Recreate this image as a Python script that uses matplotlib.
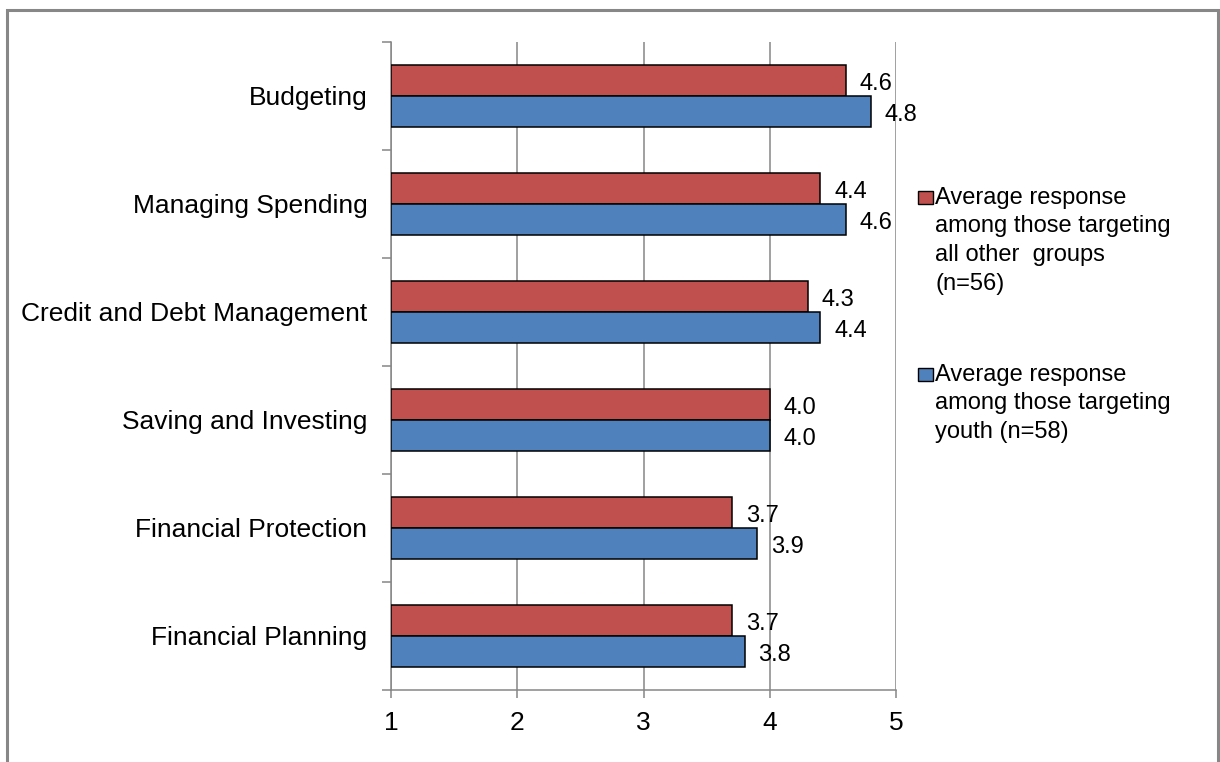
import numpy as np
import matplotlib
matplotlib.use("Agg")
import matplotlib.pyplot as plt
from matplotlib.patches import Rectangle
from matplotlib.legend_handler import HandlerPatch

plt.rcParams['font.family'] = ['Liberation Sans', 'DejaVu Sans']

categories = ["Budgeting", "Managing Spending", "Credit and Debt Management",
              "Saving and Investing", "Financial Protection", "Financial Planning"]
other_groups = [4.6, 4.4, 4.3, 4.0, 3.7, 3.7]
youth = [4.8, 4.6, 4.4, 4.0, 3.9, 3.8]
label_other = "Average response\namong those targeting\nall other  groups\n(n=56)"
label_youth = "Average response\namong those targeting\nyouth (n=58)"

red = "#C0504D"
blue = "#4F81BD"
grey = "#868686"

leg_size = 17
line_step = 28.7 * 0.72  # legend line spacing in points


class TopSquare(HandlerPatch):
    # legend text is centred on the marker, so lift the square to the first line
    def __init__(self, n_lines, **kw):
        super().__init__(**kw)
        self.n_lines = n_lines

    def create_artists(self, legend, orig_handle, xdescent, ydescent,
                       width, height, fontsize, trans):
        shift = (self.n_lines - 1) * line_step / 2 + 1.5
        p = Rectangle((-xdescent, -ydescent + shift), 10.8, 9.4,
                      facecolor=orig_handle.get_facecolor(),
                      edgecolor="black", linewidth=1.0, transform=trans)
        return [p]


fig = plt.figure(figsize=(12.2, 7.62), dpi=100)
ax = fig.add_axes([0.3205, 0.0945, 0.414, 0.8504])

y = np.arange(len(categories))
h = 0.287
bars_o = ax.barh(y - h / 2, np.array(other_groups) - 1, height=h, left=1,
                 color=red, edgecolor="black", linewidth=1.1, zorder=3)
bars_y = ax.barh(y + h / 2, np.array(youth) - 1, height=h, left=1,
                 color=blue, edgecolor="black", linewidth=1.1, zorder=3)

for yy, v in zip(y - h / 2, other_groups):
    ax.annotate(f"{v:.1f}", (v, yy), xytext=(10, -2.5), textcoords="offset points",
                va="center", ha="left", fontsize=17)
for yy, v in zip(y + h / 2, youth):
    ax.annotate(f"{v:.1f}", (v, yy), xytext=(10, -2.5), textcoords="offset points",
                va="center", ha="left", fontsize=17)

ax.set_xlim(1, 5)
ax.set_ylim(len(categories) - 0.5, -0.5)
ax.set_xticks([1, 2, 3, 4, 5])
ax.set_yticks(y)
ax.set_yticklabels(categories)
ax.set_yticks(np.arange(len(categories) + 1) - 0.5, minor=True)
ax.tick_params(axis="y", which="major", length=0, pad=17, labelsize=19)
ax.tick_params(axis="y", which="minor", length=6.5, width=1.1, color=grey)
ax.tick_params(axis="x", length=6, width=1.1, color=grey, pad=9, labelsize=19)
ax.xaxis.grid(True, color=grey, linewidth=1.1, zorder=0)
ax.set_axisbelow(True)
for s in ["top", "right"]:
    ax.spines[s].set_visible(False)
for s in ["left", "bottom"]:
    ax.spines[s].set_color(grey)
    ax.spines[s].set_linewidth(1.1)

leg = ax.legend([bars_o[0], bars_y[0]], [label_other, label_youth],
                handler_map={bars_o[0]: TopSquare(4), bars_y[0]: TopSquare(3)},
                loc="upper left", bbox_to_anchor=(0.7525, 0.755),
                bbox_transform=fig.transFigure, frameon=False, fontsize=leg_size,
                handlelength=0.635, handletextpad=0.1, labelspacing=2.92,
                borderaxespad=0, borderpad=0)
for t in leg.get_texts():
    t.set_linespacing(1.39)

# outer frame around the whole chart
fig.patches.append(Rectangle((6.5 / 1220, -0.05), 1211 / 1220, 1.05 - 10 / 762,
                             transform=fig.transFigure, fill=False,
                             edgecolor="#878787", linewidth=2.2))

fig.savefig("out.png", dpi=100)
